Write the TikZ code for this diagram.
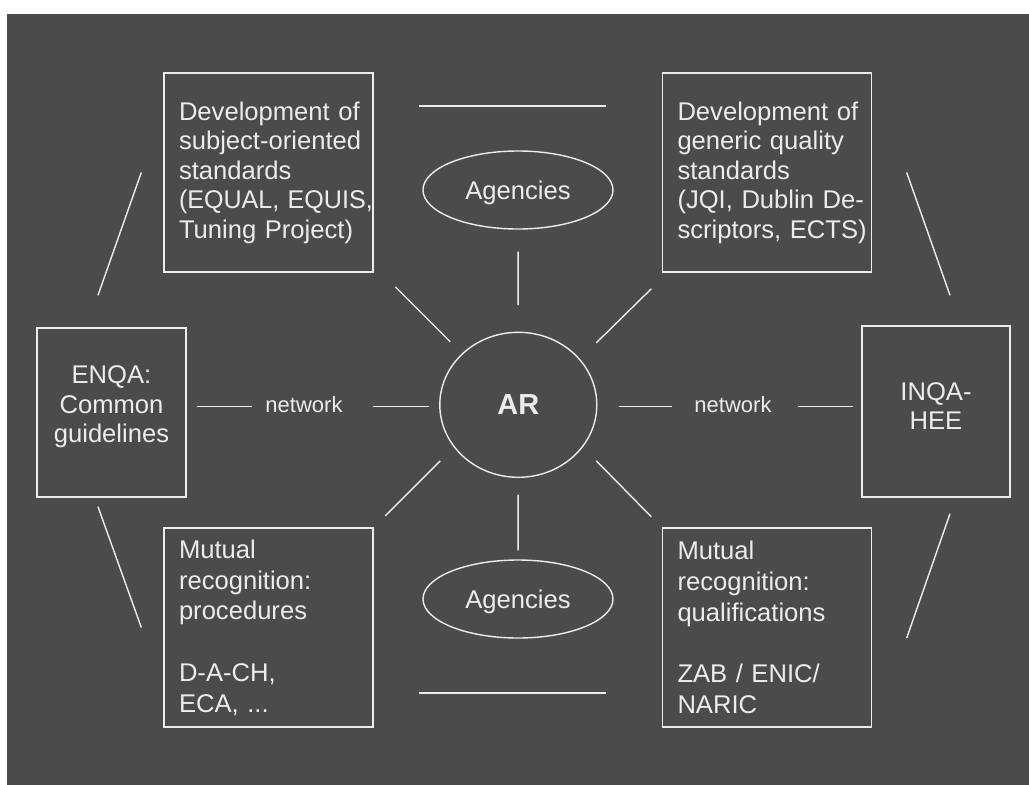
\documentclass[tikz,border=0pt]{standalone}
\usepackage{fontspec}
\usepackage{graphicx}
\setmainfont{Liberation Sans}
\usetikzlibrary{shapes.geometric,calc}
\definecolor{bgc}{RGB}{75,75,75}
\definecolor{fgc}{RGB}{236,236,236}
\newcommand\fsbox{\fontsize{25.6pt}{29.5pt}\selectfont}
\newcommand\fsboxb{\fontsize{25.6pt}{30.75pt}\selectfont}
\newcommand\fsnet{\fontsize{22pt}{26pt}\selectfont}
\newcommand\fsar{\fontsize{29pt}{32pt}\selectfont\bfseries}
\newcommand\lift[1]{\rule[-#1]{0pt}{#1}}
\begin{document}
\begin{tikzpicture}[x=1pt,y=-1pt,
  every node/.style={text=fgc},
  lnk/.style={draw=fgc,line width=1.4pt},
  bigbox/.style={draw=fgc,line width=1.4pt,rectangle,align=left,text width=179pt,inner xsep=15pt,inner ysep=0pt,minimum width=209pt,minimum height=199pt},
  sidebox/.style={draw=fgc,line width=1.4pt,rectangle,align=center,inner sep=0pt,font=\fsbox},
  agency/.style={draw=fgc,line width=1.4pt,ellipse,minimum width=190pt,minimum height=78pt,inner sep=0pt,font=\fsbox,text depth=0pt},
  netlbl/.style={font=\fsnet,inner sep=0pt,text height=12pt,text depth=0pt},
]
\useasboundingbox (0,0) rectangle (1029,785);
\fill[bgc] (7,14) rectangle (1029,785);
\node[bigbox,font=\fsbox] (TL) at (268.5,172.5) {\mbox{Development of}\\\mbox{subject-oriented}\\\mbox{standards}\\\scalebox{0.98}[1]{(EQUAL, EQUIS,}\\\mbox{Tuning Project)}};
\node[bigbox,font=\fsbox] (TR) at (767,172.5) {\mbox{Development of}\\\mbox{generic quality}\\\mbox{standards}\\\mbox{(JQI, Dublin De-}\\\mbox{scriptors, ECTS)}};
\node[bigbox,font=\fsboxb] (BL) at (268.5,627.5) {\mbox{Mutual}\\\mbox{recognition:}\\\mbox{procedures}\\[30.75pt]\mbox{D-A-CH,}\\\mbox{ECA, ...}};
\node[bigbox,font=\fsboxb] (BR) at (767,627.5) {\mbox{Mutual}\\\mbox{recognition:}\\\mbox{qualifications}\\[30.75pt]\mbox{ZAB / ENIC/}\\\mbox{NARIC}};
\node[sidebox,minimum width=149pt,minimum height=169pt] (EN) at (111.5,412.5) {ENQA:\\Common\\guidelines\lift{16pt}};
\node[sidebox,minimum width=148pt,minimum height=171pt] (IN) at (936,411.5) {INQA-\\HEE\lift{11pt}};
\node[ellipse,draw=fgc,line width=1.4pt,minimum width=157pt,minimum height=145pt,inner sep=0pt,font=\fsar] (AR) at (518.3,404.8) {AR};
\node[agency] (AT) at (518,190) {Agencies};
\node[agency] (AB) at (518,599) {Agencies};
\node[netlbl] (NL) at (304,406.5) {network};
\node[netlbl] (NR) at (733,406.5) {network};
% network lines
\draw[lnk,shorten <=10pt,shorten >=13pt] (EN.east |- NL.west) -- (NL.west);
\draw[lnk,shorten <=30pt,shorten >=10pt] (NL.east) -- (AR.west |- NL.east);
\draw[lnk,shorten <=21pt,shorten >=22pt] (AR.east |- NR.west) -- (NR.west);
\draw[lnk,shorten <=26pt,shorten >=8pt] (NR.east) -- (IN.west |- NR.east);
% verticals
\draw[lnk,shorten <=22pt,shorten >=26.5pt] (AT) -- (AR);
\draw[lnk,shorten <=16.5pt,shorten >=9pt] (AR) -- (AB);
% diagonals
\draw[lnk] ([xshift=-68pt,yshift=63pt]AR.center) -- ([xshift=-123pt,yshift=118pt]AR.center);
\draw[lnk] ([xshift=78pt,yshift=62pt]AR.center) -- ([xshift=133pt,yshift=116pt]AR.center);
\draw[lnk] ([xshift=-78pt,yshift=-56pt]AR.center) -- ([xshift=-133pt,yshift=-111pt]AR.center);
\draw[lnk] ([xshift=78pt,yshift=-56pt]AR.center) -- ([xshift=133pt,yshift=-112pt]AR.center);
% top / bottom
\draw[lnk,shorten <=45pt,shorten >=55.5pt] ([yshift=66.5pt]TL.east) -- ([yshift=66.5pt]TR.west);
\draw[lnk,shorten <=45pt,shorten >=55.5pt] ([yshift=-65.5pt]BL.east) -- ([yshift=-65.5pt]BR.west);
% outer
\draw[lnk] ([xshift=-22pt]TL.west) -- ([xshift=-13.5pt,yshift=32pt]EN.north);
\draw[lnk] ([xshift=-22pt]BL.west) -- ([xshift=-13.5pt,yshift=-9pt]EN.south);
\draw[lnk] ([xshift=34.5pt]TR.east) -- ([xshift=14pt,yshift=30pt]IN.north);
\draw[lnk] ([xshift=34.5pt,yshift=-10.5pt]BR.east) -- ([xshift=14pt,yshift=-16pt]IN.south);
\end{tikzpicture}
\end{document}
